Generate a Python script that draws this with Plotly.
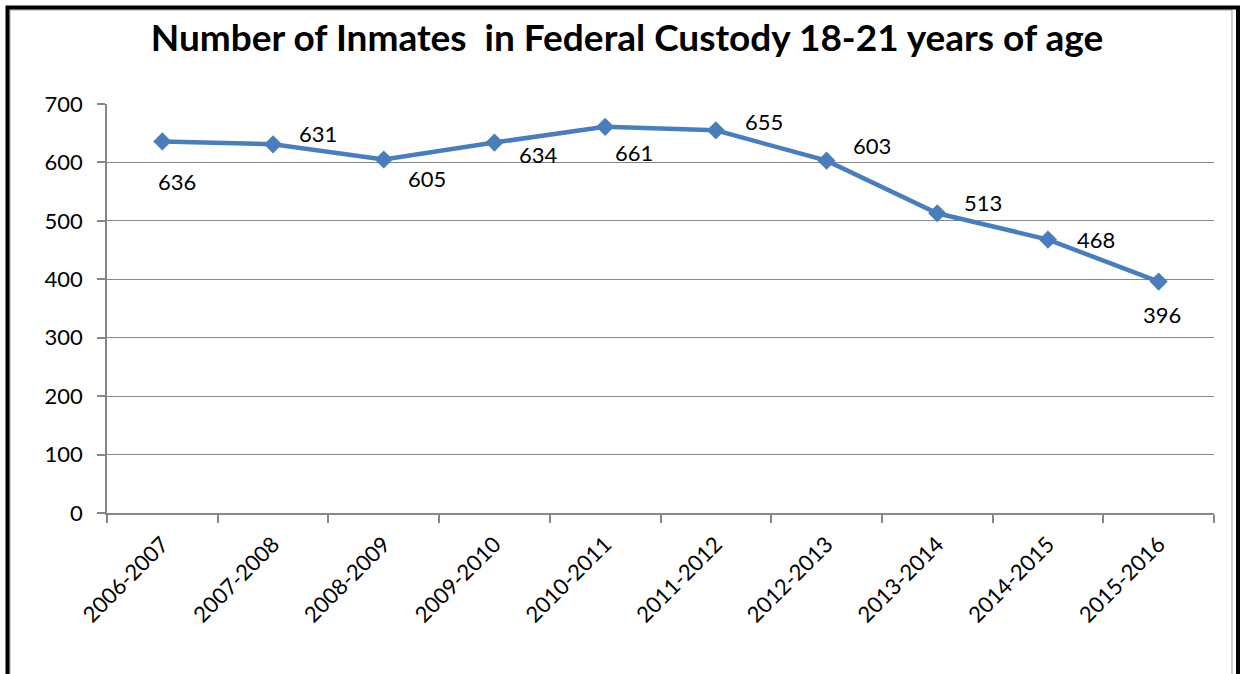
import plotly.graph_objects as go

categories = ["2006-2007", "2007-2008", "2008-2009", "2009-2010", "2010-2011",
              "2011-2012", "2012-2013", "2013-2014", "2014-2015", "2015-2016"]
inmates = [636, 631, 605, 634, 661, 655, 603, 513, 468, 396]
# label offsets (pixels) relative to each point
label_dx = [15, 45, 43, 44, 29, 48, 45, 46, 48, 3]
label_dy = [40, -11, 19, 12, 26, -9, -15, -11, 0, 33]

W, H = 1241, 674
L, R, T, B = 107, 27, 104, 161
pw, ph = W - L - R, H - T - B

def px(x):
    return (x - L) / pw

def py(y):
    return 1 - (y - T) / ph

FONT = "Lato"

fig = go.Figure()
fig.add_trace(go.Scatter(
    x=categories, y=inmates, mode="lines+markers",
    line=dict(color="#4A7EBB", width=4.5),
    marker=dict(symbol="diamond", size=14, color="#4A7EBB"),
    hoverinfo="skip", showlegend=False,
))

annotations = []
for c, v, dx, dy in zip(categories, inmates, label_dx, label_dy):
    annotations.append(dict(x=c, y=v, xref="x", yref="y", text=str(v),
                            showarrow=False, xshift=dx, yshift=-dy,
                            font=dict(family=FONT, size=22, color="black")))

shapes = [
    # thin gray inner border
    dict(type="path", xref="paper", yref="paper",
         path=f"M {px(10)} {py(H+5)} L {px(10)} {py(10)} L {px(1232)} {py(10)} L {px(1232)} {py(H+5)}",
         line=dict(color="#A0A0A0", width=1)),
    # thick black outer border
    dict(type="path", xref="paper", yref="paper",
         path=f"M {px(7.5)} {py(H+5)} L {px(7.5)} {py(7.5)} L {px(1238)} {py(7.5)} L {px(1238)} {py(H+5)}",
         line=dict(color="black", width=4)),
]

fig.update_layout(
    width=W, height=H,
    margin=dict(l=L, r=R, t=T, b=B),
    paper_bgcolor="white", plot_bgcolor="white",
    title=dict(text="<b>Number of Inmates  in Federal Custody 18-21 years of age</b>",
               x=627 / W, xanchor="center", y=1 - 38 / H, yanchor="middle",
               font=dict(family=FONT, size=37, color="black")),
    annotations=annotations,
    shapes=shapes,
    font=dict(family=FONT, size=22, color="black"),
)
fig.update_xaxes(
    range=[-0.5, 9.5], tickangle=-45, tickson="boundaries",
    ticks="outside", ticklen=8, tickcolor="#868686", tickwidth=1.5,
    showline=True, linecolor="#868686", linewidth=1.5,
    showgrid=False, tickfont=dict(family=FONT, size=22, color="black"),
    ticklabelstandoff=8,
    fixedrange=True,
)
fig.update_yaxes(
    range=[0, 700], dtick=100, ticks="outside", ticklen=8,
    tickcolor="#868686", tickwidth=1.5,
    showline=True, linecolor="#868686", linewidth=1.5,
    showgrid=True, gridcolor="#868686", gridwidth=1,
    zeroline=False, tickfont=dict(family=FONT, size=22, color="black"),
    ticklabelstandoff=10,
    fixedrange=True,
)

fig.write_html("out.html", config={"displayModeBar": False},
               post_script="document.body.style.margin='0';document.body.style.overflow='hidden';")
